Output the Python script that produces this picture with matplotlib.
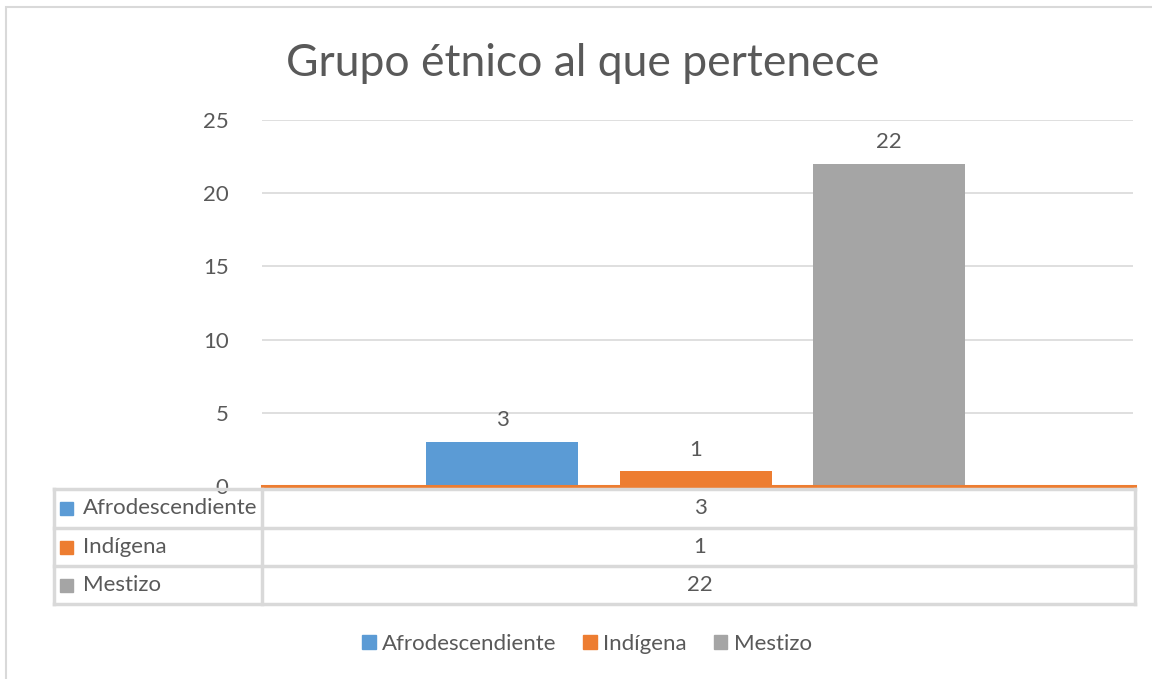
import matplotlib
matplotlib.use("Agg")
import matplotlib.pyplot as plt
from matplotlib.patches import Patch, Rectangle
from matplotlib.lines import Line2D

plt.rcParams['font.family'] = ['Lato', 'DejaVu Sans']

title = "Grupo étnico al que pertenece"
series = ["Afrodescendiente", "Indígena", "Mestizo"]
values = [3, 1, 22]
colors = ["#5b9bd5", "#ed7d31", "#a5a5a5"]
yticks = [0, 5, 10, 15, 20, 25]

W, H = 1152, 679
fig = plt.figure(figsize=(W / 100, H / 100), dpi=100)
txt = "#595959"
grid = "#d9d9d9"
fs = 16

def fx(x):
    return x / W

def fy(y):
    return 1 - y / H

# outer chart border
fig.add_artist(Rectangle((fx(6), fy(700)), fx(1160) - fx(6), fy(7) - fy(700),
                         transform=fig.transFigure, fill=False, ec=grid, lw=1.5))

ax_l, ax_r, ax_t, ax_b = 262, 1133, 120, 486
ax = fig.add_axes([fx(ax_l), fy(ax_b), fx(ax_r) - fx(ax_l), fy(ax_t) - fy(ax_b)])
ax.set_xlim(0, 1)
ax.set_ylim(0, 25)
ax.set_yticks(yticks)
ax.set_yticklabels([str(t) for t in yticks], fontsize=fs, color=txt)
ax.tick_params(axis='y', length=0, pad=24)
ax.set_xticks([])
for s in ax.spines.values():
    s.set_visible(False)
ax.yaxis.grid(True, color=grid, lw=1.2)
ax.set_axisbelow(True)

centers = [0.2755, 0.4983, 0.7193]
bw = 0.1745
for c, v, col in zip(centers, values, colors):
    ax.bar(c, v, width=bw, color=col, zorder=2)
    ax.text(c, v + 0.8, str(v), ha='center', va='bottom', fontsize=fs, color=txt)

# orange axis line
ax.plot([0, 1.002], [0, 0], color="#ed7d31", lw=2.2, zorder=3, clip_on=False)
for lbl in ax.get_yticklabels():
    lbl.set_zorder(5)

fig.text(0.5 * (fx(287) + fx(878)), fy(63), title, ha='center', va='center',
         fontsize=32, color=txt)

# data table
rows_y = [489, 528, 566, 604]
tx0, tx1, tx2 = 54, 262, 1135
lc = dict(color=grid, lw=2.5, transform=fig.transFigure)
for y in rows_y:
    fig.add_artist(Line2D([fx(tx0), fx(tx2)], [fy(y), fy(y)], **lc))
for x in [tx0, tx1, tx2]:
    fig.add_artist(Line2D([fx(x), fx(x)], [fy(rows_y[0]), fy(rows_y[-1])], **lc))
for i, (name, v, col) in enumerate(zip(series, values, colors)):
    yc = (rows_y[i] + rows_y[i + 1]) / 2
    fig.add_artist(Rectangle((fx(60), fy(yc + 6.5)), fx(13), fy(0) - fy(13),
                             transform=fig.transFigure, color=col))
    fig.text(fx(83), fy(yc), name, ha='left', va='center', fontsize=fs, color=txt)
    fig.text(fx(700), fy(yc), str(v), ha='center', va='center', fontsize=fs, color=txt)

handles = [Patch(color=c, label=s) for s, c in zip(series, colors)]
leg = fig.legend(handles=handles, loc='center', bbox_to_anchor=(fx(587), fy(644)),
                 ncol=3, frameon=False, fontsize=fs, handlelength=0.6, handleheight=0.6,
                 handletextpad=0.3, columnspacing=1.2, labelcolor=txt)

fig.savefig("out.png", dpi=100)
